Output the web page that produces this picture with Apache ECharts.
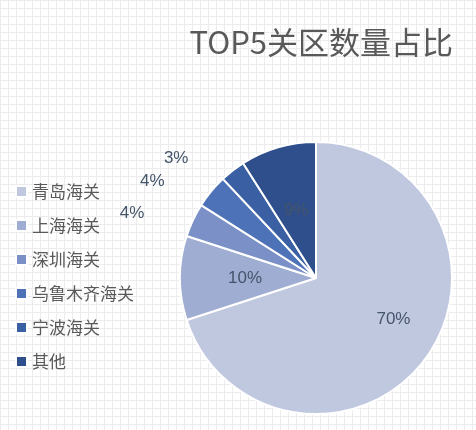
<!DOCTYPE html>
<html><head><meta charset="utf-8">
<script src="https://cdn.jsdelivr.net/npm/echarts@6/dist/echarts.min.js"></script>
<style>
html,body{margin:0;padding:0}
#c{width:476px;height:430px;background-color:#fff;
background-image:linear-gradient(#ececec 1px,transparent 1px),linear-gradient(90deg,#ececec 1px,transparent 1px);
background-size:8px 8px}
</style></head><body>
<div id="c"></div>
<script>
var names = ['青岛海关','上海海关','深圳海关','乌鲁木齐海关','宁波海关','其他'];
var values = [70,10,4,4,3,9];
var colors = ['#c0c8e0','#9fadd2','#7a90c6','#4d72b8','#3b5fa3','#2f4f8c'];
var outside = [false,false,true,true,true,false];

var chart = echarts.init(document.getElementById('c'));
var data = names.map(function (n, i) {
  return {
    name: n, value: values[i],
    itemStyle: {color: colors[i]},
    label: outside[i] ? {position: 'outside', distance: 4} : {position: 'inside', offset: i === 0 ? [20, 0] : [0, 0]},
    labelLine: {show: false}
  };
});
chart.setOption({
  title: {text: 'TOP5关区数量占比', right: 18, top: 22,
    textStyle: {fontSize: 31, fontWeight: 'normal', color: '#595959', fontFamily: 'Noto Sans CJK SC'}},
  legend: {orient: 'vertical', left: 10, top: 178, itemGap: 17, itemWidth: 11, itemHeight: 11,
    icon: 'rect', textStyle: {fontSize: 17, color: '#595959', fontFamily: 'Noto Sans CJK SC'}},
  series: [{
    type: 'pie', center: [316, 278], radius: 136, startAngle: 90, clockwise: true,
    animation: false,
    itemStyle: {borderColor: '#fff', borderWidth: 2},
    label: {formatter: '{d}%', fontSize: 17, color: '#44546a', fontFamily: 'Arial'},
    data: data
  }]
});
</script></body></html>
